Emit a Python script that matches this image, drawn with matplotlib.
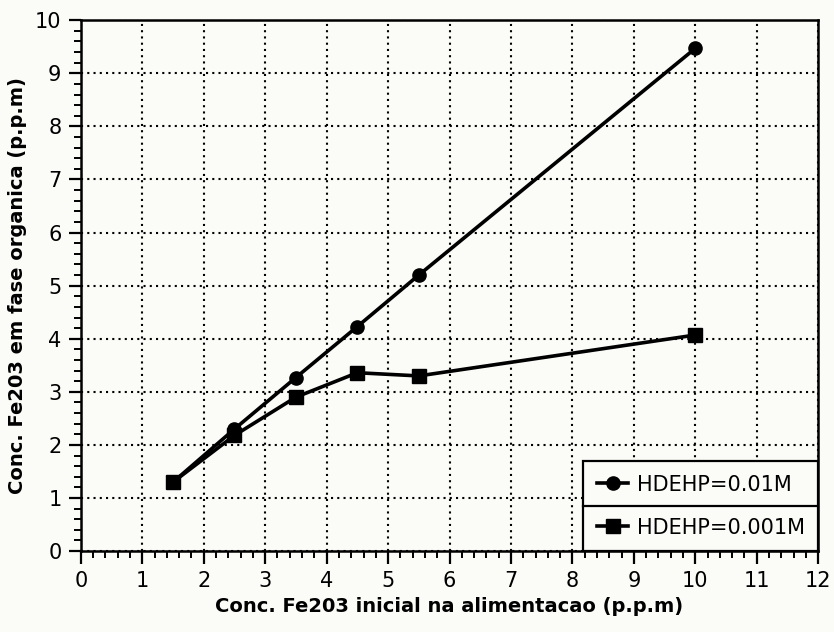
import matplotlib
matplotlib.use("Agg")
import matplotlib.pyplot as plt
from matplotlib.ticker import MultipleLocator
from matplotlib.lines import Line2D

# feed concentration (p.p.m) and organic phase concentration for two HDEHP levels
conc_inicial = [1.5, 2.5, 3.5, 4.5, 5.5, 10.0]
hdehp_001 = [1.3, 2.3, 3.27, 4.23, 5.2, 9.47]
hdehp_0001 = [1.3, 2.18, 2.9, 3.36, 3.3, 4.07]
series_labels = ["HDEHP=0.01M", "HDEHP=0.001M"]

fig = plt.figure(figsize=(8.34, 6.32), dpi=100, facecolor="#fbfbf8")
ax = fig.add_axes([0.097, 0.128, 0.884, 0.84])
ax.set_facecolor("#fbfbf8")

ax.plot(conc_inicial, hdehp_001, color="black", lw=2.6, marker="o", ms=9.5,
        label=series_labels[0])
ax.plot(conc_inicial, hdehp_0001, color="black", lw=2.6, marker="s", ms=10,
        label=series_labels[1])

ax.set_xlim(0, 12)
ax.set_ylim(0, 10)
ax.xaxis.set_major_locator(MultipleLocator(1))
ax.xaxis.set_minor_locator(MultipleLocator(0.2))
ax.yaxis.set_major_locator(MultipleLocator(1))
ax.yaxis.set_minor_locator(MultipleLocator(0.2))
ax.tick_params(which="major", direction="out", length=9, width=1.6,
               labelsize=15, pad=5)
ax.tick_params(which="minor", direction="out", length=5, width=1.4)
ax.grid(True, which="major", color="black", linestyle=(0, (1, 2)), lw=1.5)
for s in ax.spines.values():
    s.set_linewidth(1.8)

ax.set_xlabel("Conc. Fe203 inicial na alimentacao (p.p.m)", fontsize=14,
              fontweight="bold", labelpad=5)
ax.set_ylabel("Conc. Fe203 em fase organica (p.p.m)", fontsize=14,
              fontweight="bold", labelpad=6)

leg = ax.legend(loc="lower right", borderaxespad=0, fancybox=False,
                edgecolor="black", framealpha=1, facecolor="#fbfbf8",
                fontsize=15, handlelength=1.5, labelspacing=1.1,
                borderpad=0.65, handletextpad=0.4)
leg.get_frame().set_linewidth(1.6)

# divider between the two legend rows
fig.canvas.draw()
bb = leg.get_window_extent().transformed(ax.transAxes.inverted())
ymid = (bb.y0 + bb.y1) / 2
ax.add_line(Line2D([bb.x0, bb.x1], [ymid, ymid], transform=ax.transAxes,
                   color="black", lw=1.6, zorder=10))

fig.savefig("out.png", dpi=100, facecolor=fig.get_facecolor())
